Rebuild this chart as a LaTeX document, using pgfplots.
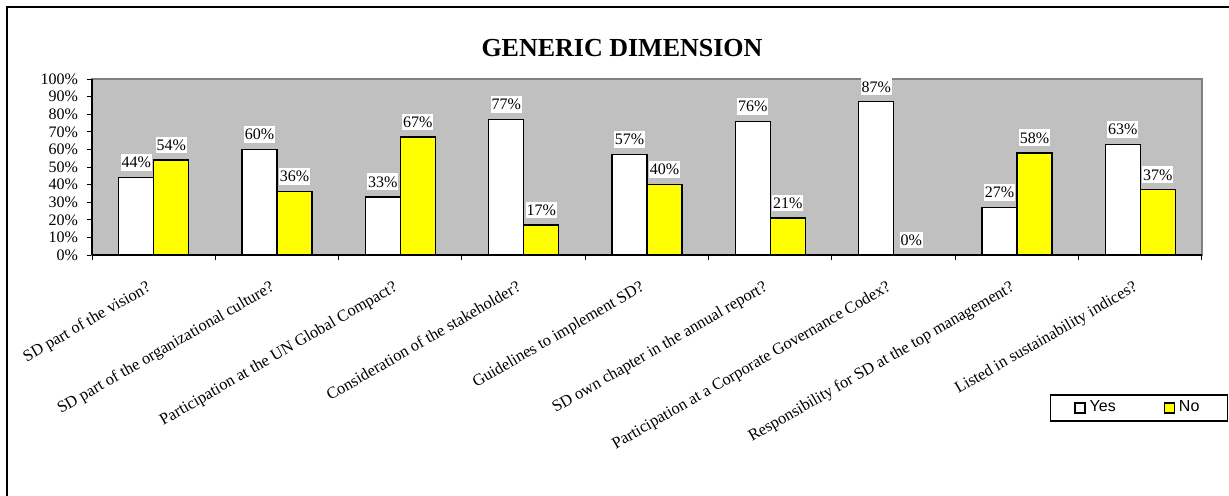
\documentclass[border=0pt]{standalone}
\usepackage{fontspec}
\setmainfont{Liberation Serif}
\newfontfamily\arial{Liberation Sans}
\usepackage{pgfplots}
\pgfplotsset{compat=1.18}
\definecolor{plotgray}{RGB}{192,192,192}
\definecolor{bordergray}{RGB}{128,128,128}
\definecolor{ylw}{RGB}{255,255,0}
\begin{document}
\begin{tikzpicture}
\useasboundingbox (0,0) rectangle (614.5pt,-247.5pt);
\draw[line width=1pt] (3.5pt,-300pt) -- (3.5pt,-3.5pt) -- (640pt,-3.5pt);
\node[font=\bfseries\fontsize{13}{15}\selectfont] at (311pt,-24pt) {GENERIC DIMENSION};
\begin{axis}[
  at={(46pt,-127.5pt)}, anchor=south west,
  scale only axis, width=555pt, height=88pt,
  ybar=0pt, bar width=17.5pt,
  xmin=-0.5, xmax=8.5, ymin=0, ymax=100,
  axis background/.style={fill=plotgray},
  axis line style={draw=bordergray, line width=0.6pt},
  xtick={0,...,8},
  xticklabels={SD part of the vision?, SD part of the organizational culture?, Participation at the UN Global Compact?, Consideration of the stakeholder?, Guidelines to implement SD?, SD own chapter in the annual report?, Participation at a Corporate Governance Codex?, Responsibility for SD at the top management?, Listed in sustainability indices?},
  minor xtick={-0.5,0.5,...,8.5},
  xtick pos=bottom, ytick pos=left,
  tick align=outside,
  major x tick style={draw=none},
  minor x tick style={black, line width=0.5pt},
  minor tick length=2.5pt,
  major tick length=2.5pt,
  y tick style={black, line width=0.5pt},
  ytick={0,10,...,100},
  yticklabel={\pgfmathprintnumber{\tick}\%},
  /pgf/number format/assume math mode=true,
  tick label style={font=\fontsize{8}{9}\selectfont},
  xticklabel style={xshift=-3.5pt, yshift=-8.5pt, rotate=30, anchor=north east, inner sep=1pt, font=\fontsize{8.2}{9}\selectfont},
  yticklabel style={xshift=-1pt},
  nodes near coords={\pgfmathprintnumber{\pgfplotspointmeta}\%},
  every node near coord/.append style={fill=white, inner xsep=0.5pt, inner ysep=1.5pt, yshift=3pt, font=\fontsize{8}{9}\selectfont, /pgf/number format/assume math mode=true},
  clip=false,
  legend columns=2,
  legend style={at={(0.9432,-0.869)}, anchor=center, draw=black, line width=0.6pt, fill=white, font=\arial\fontsize{8}{9}\selectfont, inner xsep=12pt, inner ysep=1pt, /tikz/every even column/.append style={column sep=22pt}},
  legend image code/.code={\draw[#1, draw=black, line width=0.6pt] (0pt,-2.5pt) rectangle (5pt,2.5pt);},
]
\addplot[fill=white, draw=black, line width=0.6pt] coordinates {(0,44) (1,60) (2,33) (3,77) (4,57) (5,76) (6,87) (7,27) (8,63)};
\addplot[fill=ylw, draw=black, line width=0.6pt] coordinates {(0,54) (1,36) (2,67) (3,17) (4,40) (5,21) (6,0) (7,58) (8,37)};
\legend{Yes, No}
\draw[black, line width=0.6pt] (rel axis cs:0,0) -- (rel axis cs:0,1);
\draw[black, line width=0.6pt] (rel axis cs:0,0) -- (rel axis cs:1,0);
\end{axis}
\end{tikzpicture}
\end{document}
